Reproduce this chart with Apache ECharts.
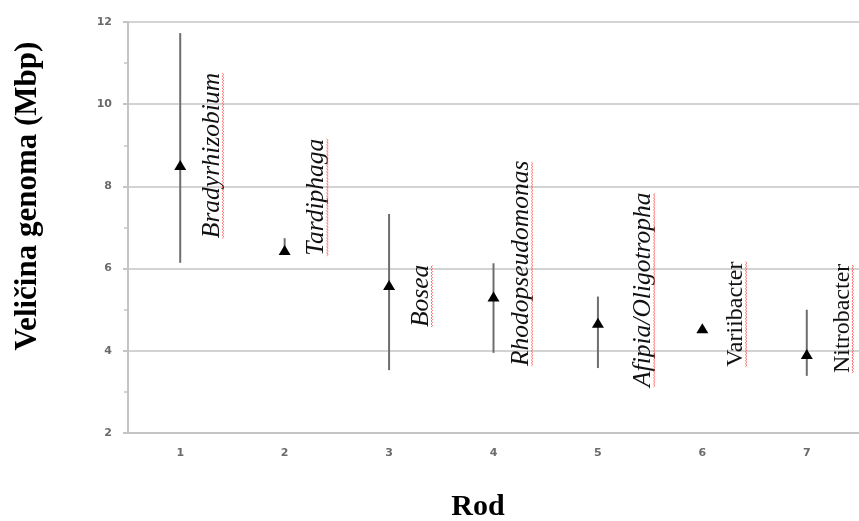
<!DOCTYPE html>
<html>
<head>
<meta charset="utf-8">
<script src="https://cdn.jsdelivr.net/npm/echarts@6/dist/echarts.min.js"></script>
<style>
html,body{margin:0;padding:0;background:#fff;}
#chart{width:859px;height:521px;}
</style>
</head>
<body>
<div id="chart"></div>
<script>
// ---- data ----
var categories = ['1', '2', '3', '4', '5', '6', '7'];
var genomeMean = [8.52, 6.45, 5.60, 5.32, 4.68, 4.55, 3.92];
var genomeLow  = [6.14, 6.40, 3.53, 3.95, 3.58, null, 3.39];
var genomeHigh = [11.73, 6.74, 7.33, 6.13, 5.32, null, 5.00];
var genusNames = ['Bradyrhizobium', 'Tardiphaga', 'Bosea', 'Rhodopseudomonas', 'Afipia/Oligotropha', 'Variibacter', 'Nitrobacter'];
var genusItalic = [true, true, true, true, true, false, false];
var yTicks = [2, 4, 6, 8, 10, 12];

// ---- annotation layout (label anchors, separate from data) ----
var labelDx = [0.40, 0.40, 0.40, 0.36, 0.53, 0.41, 0.43];   // fraction of a category band
var labelBottom = [6.74, 6.31, 4.58, 3.63, 3.12, 3.61, 3.46]; // y value at text start

var measureCtx = document.createElement('canvas').getContext('2d');
function fontOf(i) {
  return (genusItalic[i] ? 'italic 25.5px ' : '24px ') + '"Liberation Serif", "Times New Roman", serif';
}
function textWidth(i) {
  measureCtx.font = fontOf(i);
  return measureCtx.measureText(genusNames[i]).width;
}

var chart = echarts.init(document.getElementById('chart'), null, {renderer: 'canvas'});

var errData = categories.map(function (c, i) { return [i, genomeLow[i], genomeHigh[i]]; })
  .filter(function (d) { return d[1] != null; });
var meanData = categories.map(function (c, i) { return [i, genomeMean[i]]; });
var labelData = categories.map(function (c, i) { return [i, labelBottom[i], i]; });

var option = {
  backgroundColor: '#ffffff',
  animation: false,
  grid: {left: 128, top: 22, width: 735, height: 411, containLabel: false},
  xAxis: {
    type: 'category',
    data: categories,
    boundaryGap: true,
    axisLine: {show: true, lineStyle: {color: '#c4c4c4', width: 2}},
    axisTick: {show: false},
    axisLabel: {margin: 15, color: '#6a6a6a', fontSize: 11, fontWeight: 'bold', fontFamily: '"DejaVu Sans", sans-serif'},
    splitLine: {show: false}
  },
  yAxis: {
    type: 'value',
    min: yTicks[0],
    max: yTicks[yTicks.length - 1],
    interval: 2,
    axisLine: {show: true, lineStyle: {color: '#c4c4c4', width: 2}},
    axisTick: {show: true, length: 5, lineStyle: {color: '#c4c4c4', width: 2}},
    minorTick: {show: true, splitNumber: 2, length: 4, lineStyle: {color: '#c4c4c4', width: 1.5}},
    axisLabel: {margin: 16, color: '#6a6a6a', fontSize: 11, fontWeight: 'bold', fontFamily: '"DejaVu Sans", sans-serif'},
    splitLine: {show: true, lineStyle: {color: '#c4c4c4', width: 1.5}}
  },
  series: [
    {
      type: 'custom',
      name: 'range',
      data: errData,
      z: 2,
      renderItem: function (params, api) {
        var x = api.value(0);
        var p1 = api.coord([x, api.value(1)]);
        var p2 = api.coord([x, api.value(2)]);
        return {
          type: 'line',
          shape: {x1: p1[0], y1: p1[1], x2: p2[0], y2: p2[1]},
          style: {stroke: '#6e6e6e', lineWidth: 2}
        };
      }
    },
    {
      type: 'scatter',
      name: 'mean',
      data: meanData,
      symbol: 'triangle',
      symbolSize: [12, 10],
      itemStyle: {color: '#000000', opacity: 1},
      z: 3
    },
    {
      type: 'custom',
      name: 'labels',
      data: labelData,
      z: 4,
      clip: false,
      renderItem: function (params, api) {
        var i = api.value(2);
        var p = api.coord([api.value(0), api.value(1)]);
        var band = api.size([1, 0])[0];
        var ax = p[0] + labelDx[i] * band;
        var w = textWidth(i);
        var ux = ax + 1;
        var pts = [];
        var k = 0;
        for (var y = p[1]; y >= p[1] - w; y -= 1.5) {
          pts.push([ux + (k % 2 === 0 ? -0.8 : 0.8), y]);
          k++;
        }
        return {
          type: 'group',
          children: [
            {
              type: 'text',
              x: ax + 3,
              y: p[1],
              rotation: Math.PI / 2,
              style: {
                text: genusNames[i],
                font: fontOf(i),
                fill: '#111111',
                align: 'left',
                verticalAlign: 'bottom'
              }
            },
            {
              type: 'polyline',
              shape: {points: pts},
              style: {stroke: '#ff4a4a', lineWidth: 0.8, fill: null}
            }
          ]
        };
      }
    }
  ],
  graphic: [
    {
      type: 'text',
      x: 28,
      y: 196,
      rotation: Math.PI / 2,
      style: {
        text: 'Veličina genoma (Mbp)',
        font: 'bold 31px "Liberation Serif", "Times New Roman", serif',
        fill: '#000000',
        align: 'center',
        verticalAlign: 'middle'
      }
    },
    {
      type: 'text',
      x: 478,
      y: 507,
      style: {
        text: 'Rod',
        font: 'bold 30px "Liberation Serif", "Times New Roman", serif',
        fill: '#000000',
        align: 'center',
        verticalAlign: 'middle'
      }
    }
  ]
};
chart.setOption(option);
</script>
</body>
</html>
